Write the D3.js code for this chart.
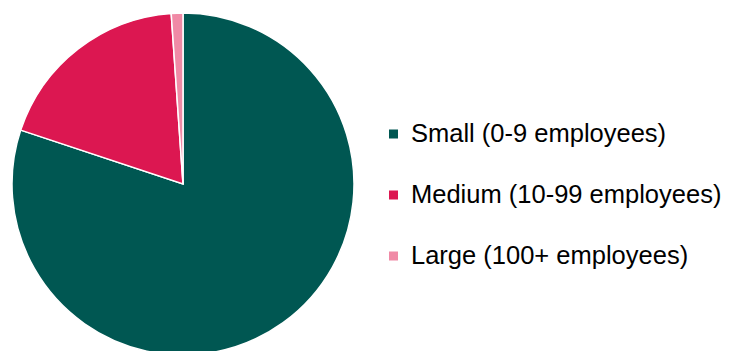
<!DOCTYPE html>
<html>
<head>
<meta charset="utf-8">
<script src="https://cdn.jsdelivr.net/npm/d3@7"></script>
<style>
  html, body { margin: 0; padding: 0; background: #fff; }
  svg { display: block; }
</style>
</head>
<body>
<svg id="chart" width="729" height="351"></svg>
<script>
// Share of businesses by size band (percent)
const categories = ["Small (0-9 employees)", "Medium (10-99 employees)", "Large (100+ employees)"];
const shares = [80.1, 18.8, 1.1];
const colours = ["#005752", "#DC1751", "#F08AA6"];

const svg = d3.select("#chart");
const cx = 183, cy = 184, radius = 171;

const color = d3.scaleOrdinal().domain(categories).range(colours);

const pie = d3.pie().sort(null).value(d => d.value);
const arc = d3.arc().innerRadius(0).outerRadius(radius);

const data = categories.map((c, i) => ({ name: c, value: shares[i] }));

svg.append("g")
  .attr("transform", `translate(${cx},${cy})`)
  .selectAll("path")
  .data(pie(data))
  .join("path")
  .attr("d", arc)
  .attr("fill", d => color(d.data.name))
  .attr("stroke", "#fff")
  .attr("stroke-width", 1.5)
  .attr("stroke-linejoin", "miter");

// Legend
const legendY = d3.scalePoint().domain(categories).range([134, 256]);
const legend = svg.append("g")
  .selectAll("g")
  .data(categories)
  .join("g")
  .attr("transform", d => `translate(389,${legendY(d)})`);

legend.append("rect")
  .attr("x", 0).attr("y", -4.5)
  .attr("width", 9).attr("height", 9)
  .attr("fill", d => color(d));

legend.append("text")
  .attr("x", 22).attr("y", 8)
  .attr("font-family", "Liberation Sans, Arial, sans-serif")
  .attr("font-size", 25.5)
  .attr("fill", "#000")
  .text(d => d);
</script>
</body>
</html>
